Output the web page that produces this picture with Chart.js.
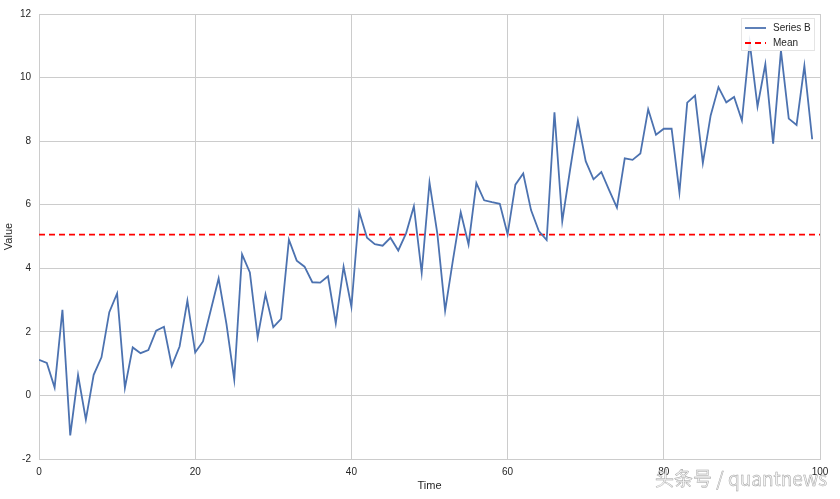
<!DOCTYPE html>
<html>
<head>
<meta charset="utf-8">
<script src="https://cdn.jsdelivr.net/npm/chart.js@4"></script>
<style>
  html, body { margin: 0; padding: 0; background: #ffffff; }
  #wrap { position: relative; width: 840px; height: 499px; }
  #c { position: absolute; left: 0; top: 0; }
  #wm { position: absolute; left: 655px; top: 466px; font-family: "Noto Sans CJK SC", "DejaVu Sans", sans-serif;
        font-size: 19px; color: #f4f4f4; -webkit-text-stroke: 0.45px #a0a0a0; white-space: nowrap; line-height: 24px; }
</style>
</head>
<body>
<div id="wrap">
  <canvas id="c" width="840" height="499"></canvas>
  <div id="wm">头条号 / quantnews</div>
</div>
<script>
// ---- data ----
const seriesLabel = "Series B";
const meanLabel = "Mean";
const seriesB = [
  1.12, 1.02, 0.25, 2.69, -1.26, 0.64, -0.76, 0.65, 1.20, 2.62,
  3.21, 0.24, 1.51, 1.33, 1.43, 2.04, 2.16, 0.93, 1.54, 2.98,
  1.35, 1.70, 2.69, 3.68, 2.25, 0.50, 4.44, 3.87, 1.83, 3.18,
  2.15, 2.41, 4.90, 4.24, 4.05, 3.56, 3.55, 3.75, 2.27, 4.05,
  2.79, 5.78, 4.96, 4.76, 4.71, 4.96, 4.56, 5.10, 5.95, 3.86,
  6.70, 5.10, 2.67, 4.26, 5.76, 4.75, 6.68, 6.14, 6.08, 6.03,
  5.07, 6.63, 6.98, 5.83, 5.17, 4.89, 8.91, 5.48, 7.10, 8.65,
  7.37, 6.80, 7.03, 6.46, 5.91, 7.46, 7.41, 7.61, 9.00, 8.20,
  8.39, 8.39, 6.39, 9.21, 9.43, 7.31, 8.81, 9.70, 9.22, 9.39,
  8.65, 11.10, 9.09, 10.42, 7.92, 10.85, 8.71, 8.51, 10.37, 8.06
];
const meanValue = 5.06;
const meanSpan = [0, 100];
const xTicks = [0, 20, 40, 60, 80, 100];
const yTicks = [-2, 0, 2, 4, 6, 8, 10, 12];

const GRID = '#cccccc';
const TEXT = '#262626';
const FONT = '"Liberation Sans", Arial, sans-serif';

const seriesPoints = seriesB.map((v, i) => ({ x: i, y: v }));
const meanPoints = meanSpan.map(x => ({ x: x, y: meanValue }));

const boxLegend = {
  id: 'boxLegend',
  afterDraw(chart) {
    const ctx = chart.ctx;
    const ca = chart.chartArea;
    const ds = chart.data.datasets;
    const right = ca.right - 5, top = ca.top + 4;
    const w = 74, h = 33;
    const left = right - w;
    ctx.save();
    ctx.fillStyle = 'rgba(255,255,255,0.85)';
    ctx.strokeStyle = '#e4e4e4';
    ctx.lineWidth = 1;
    ctx.fillRect(left, top, w, h);
    ctx.strokeRect(left + 0.5, top + 0.5, w - 1, h - 1);
    ctx.font = '10px ' + FONT;
    ctx.textBaseline = 'middle';
    ctx.textAlign = 'left';
    ds.forEach((d, k) => {
      const y = top + 10 + k * 15;
      ctx.beginPath();
      ctx.strokeStyle = d.borderColor;
      ctx.lineWidth = d.borderWidth;
      ctx.setLineDash(d.borderDash || []);
      ctx.moveTo(left + 4, y);
      ctx.lineTo(left + 25, y);
      ctx.stroke();
      ctx.setLineDash([]);
      ctx.fillStyle = TEXT;
      ctx.fillText(d.label, left + 32, y);
    });
    ctx.restore();
  }
};

new Chart(document.getElementById('c'), {
  type: 'line',
  data: {
    datasets: [
      { label: seriesLabel, data: seriesPoints, borderColor: '#4c72b0', borderWidth: 1.8,
        pointRadius: 0, tension: 0, fill: false },
      { label: meanLabel, data: meanPoints, borderColor: '#ff0000', borderWidth: 1.8,
        borderDash: [6, 4], pointRadius: 0, tension: 0, fill: false }
    ]
  },
  options: {
    responsive: false,
    animation: false,
    devicePixelRatio: 1,
    layout: { padding: { top: 12, right: 20, bottom: 0, left: 0 } },
    plugins: { legend: { display: false }, tooltip: { enabled: false } },
    scales: {
      x: {
        type: 'linear', min: 0, max: 100,
        afterBuildTicks(s) { s.ticks = xTicks.map(v => ({ value: v })); },
        afterFit(s) { s.height = 40; },
        ticks: { color: TEXT, font: { family: FONT, size: 10 }, padding: 7, maxRotation: 0 },
        grid: { color: GRID, lineWidth: 1, drawTicks: false },
        border: { display: true, color: GRID },
        title: { display: true, text: 'Time', color: TEXT, font: { family: FONT, size: 11 }, padding: { top: 0, bottom: 6 } }
      },
      y: {
        type: 'linear', min: -2, max: 12,
        afterBuildTicks(s) { s.ticks = yTicks.map(v => ({ value: v })); },
        afterFit(s) { s.width = 39; },
        ticks: { color: TEXT, font: { family: FONT, size: 10 }, padding: 8 },
        grid: { color: GRID, lineWidth: 1, drawTicks: false },
        border: { display: true, color: GRID },
        title: { display: true, text: 'Value', color: TEXT, font: { family: FONT, size: 11 }, padding: { top: 2, bottom: 0 } }
      }
    }
  },
  plugins: [boxLegend]
});
</script>
</body>
</html>
